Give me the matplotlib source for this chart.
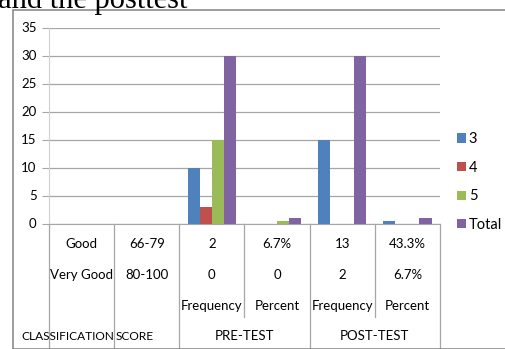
import matplotlib.pyplot as plt
from matplotlib.patches import Rectangle
from matplotlib.transforms import blended_transform_factory, offset_copy
import numpy as np

# category table under the chart
row_good = ["Good", "66-79", "2", "6.7%", "13", "43.3%"]
row_very_good = ["Very Good", "80-100", "0", "0", "2", "6.7%"]
row_kind = ["", "", "Frequency", "Percent", "Frequency", "Percent"]
group_labels = ["PRE-TEST", "POST-TEST"]
group_spans = [(2, 3), (4, 5)]

# series
series_names = ["3", "4", "5", "Total"]
vals_3 = [0, 0, 10, 0, 15, 0.5]
vals_4 = [0, 0, 3, 0, 0, 0]
vals_5 = [0, 0, 15, 0.5, 0, 0]
vals_total = [0, 0, 30, 1, 30, 1]
colors = ["#4F81BD", "#C0504D", "#9BBB59", "#8064A2"]

W, H = 505, 349
fig = plt.figure(figsize=(W / 100, H / 100), dpi=100)

# outer chart frame
fig.patches.append(Rectangle((13 / W, 0), 1, 1 - 10 / H, transform=fig.transFigure,
                             fill=False, edgecolor="#8c8c8c", lw=1.2))
fig.text(-2 / W, 1 - 8 / H, "and the posttest", family="Liberation Serif",
         fontsize=22, va="baseline", ha="left")

ax = fig.add_axes([49 / W, (H - 223.5) / H, (440 - 49) / W, (223.5 - 27.5) / H])
n = len(row_good)
x = np.arange(n)
bw = 0.185
for i, (vals, name, c) in enumerate(zip([vals_3, vals_4, vals_5, vals_total], series_names, colors)):
    ax.bar(x + (i - 1.5) * bw, vals, width=bw, color=c, label=name, zorder=3)

ax.set_xlim(-0.5, n - 0.5)
ax.set_ylim(0, 35)
ax.set_yticks(range(0, 36, 5))
ax.grid(axis="y", color="#a6a6a6", lw=0.9, zorder=0)
ax.tick_params(axis="y", length=5, color="#a6a6a6", labelsize=9.5, pad=4)
ax.set_xticks([])
for s in ["top", "right"]:
    ax.spines[s].set_visible(False)
ax.spines["left"].set_color("#d0d0d0")
ax.spines["bottom"].set_color("#a6a6a6")
for lab in ax.get_yticklabels():
    lab.set_family("Lato")

# table lines and labels in pixels below the axis
tr = blended_transform_factory(ax.transData, fig.transFigure)
def fy(py):
    return 1 - py / H

for b in np.arange(-0.5, n, 1.0):
    bottom = 317 if b in (2.5, 4.5) else 352
    ax.plot([b, b], [fy(223.5), fy(bottom)], transform=tr, color="#a6a6a6",
            lw=0.9, clip_on=False)

tkw = dict(transform=tr, ha="center", va="center", family="Lato", fontsize=9.5)
for i in range(n):
    ax.text(i, fy(244), row_good[i], **tkw)
    ax.text(i, fy(275), row_very_good[i], **tkw)
    ax.text(i, fy(306), row_kind[i], **tkw)
for lab, (a, b) in zip(group_labels, group_spans):
    ax.text((a + b) / 2, fy(336), lab, **tkw)
# the first two headers run into each other at the column border
small = {**tkw, "fontsize": 8.6}
ax.text(0.5, fy(336), "CLASSIFICATION", **{**small, "ha": "right"})
ax.text(0.5, fy(336), "SCORE", **{**small, "ha": "left",
        "transform": offset_copy(tr, fig=fig, x=1, units="dots")})

leg = ax.legend(loc="center left", frameon=False,
                handlelength=0.6, handleheight=0.6, handletextpad=0.2,
                labelspacing=1.0, prop={"family": "Lato", "size": 10.5})
leg.set_bbox_to_anchor((444 / W, 1 - 182 / H), transform=fig.transFigure)

fig.savefig("out.png", dpi=100)
